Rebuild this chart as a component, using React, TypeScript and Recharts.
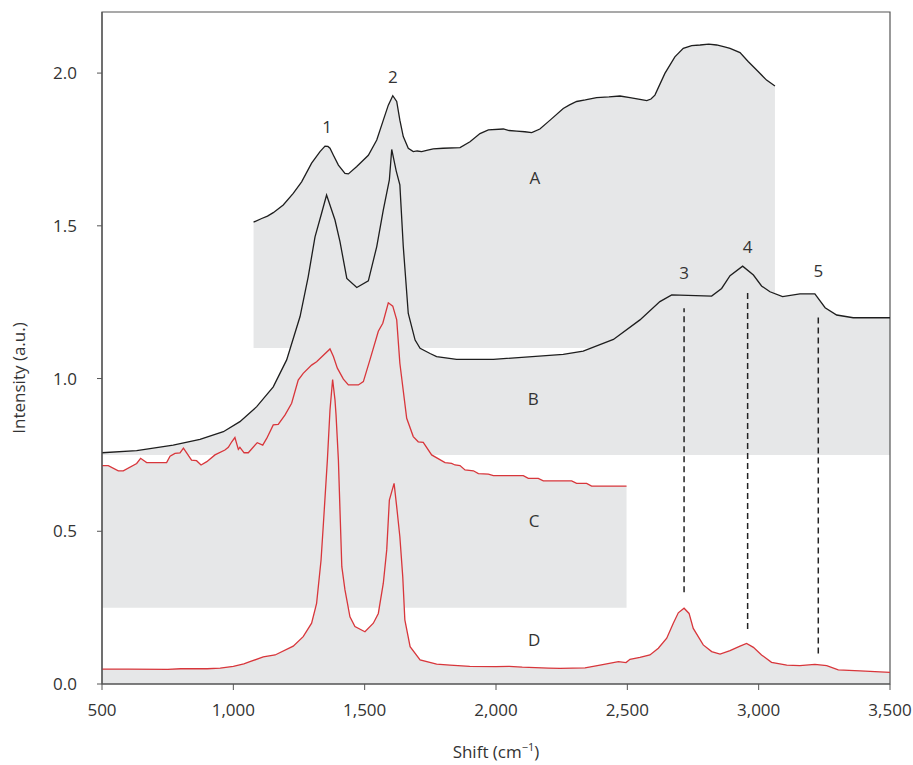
import React from 'react';
import {
  ComposedChart,
  Area,
  Line,
  XAxis,
  YAxis,
  ReferenceLine,
  ReferenceDot,
  ReferenceArea,
  Label,
} from 'recharts';

// Spectrum A (black, offset baseline 1.1)
const shiftA = [1077, 1108, 1130, 1152, 1190, 1228, 1260, 1298, 1330, 1349, 1360, 1368, 1381, 1400, 1425, 1438, 1470, 1514, 1546, 1571, 1590, 1607, 1622, 1634, 1647, 1666, 1685, 1700, 1717, 1740, 1761, 1799, 1863, 1901, 1939, 1971, 2028, 2050, 2079, 2110, 2136, 2167, 2206, 2256, 2280, 2307, 2340, 2383, 2430, 2472, 2510, 2548, 2574, 2590, 2605, 2643, 2681, 2713, 2745, 2777, 2810, 2840, 2870, 2891, 2929, 2960, 2998, 3030, 3062];
const intensityA = [1.512, 1.524, 1.532, 1.543, 1.568, 1.606, 1.644, 1.705, 1.743, 1.761, 1.76, 1.754, 1.731, 1.699, 1.672, 1.67, 1.694, 1.731, 1.781, 1.846, 1.895, 1.926, 1.907, 1.846, 1.792, 1.754, 1.743, 1.745, 1.743, 1.748, 1.752, 1.754, 1.756, 1.775, 1.802, 1.814, 1.817, 1.812, 1.81, 1.808, 1.805, 1.817, 1.846, 1.884, 1.896, 1.907, 1.912, 1.92, 1.922, 1.925, 1.92, 1.914, 1.91, 1.915, 1.928, 1.999, 2.053, 2.081, 2.09, 2.092, 2.095, 2.092, 2.086, 2.081, 2.067, 2.038, 2.005, 1.977, 1.958];
const baseA = 1.1;

// Spectrum B (black, offset baseline 0.75)
const shiftB = [500, 632, 771, 873, 962, 1025, 1089, 1152, 1203, 1254, 1285, 1311, 1336, 1355, 1387, 1406, 1432, 1470, 1514, 1546, 1571, 1594, 1603, 1620, 1634, 1647, 1666, 1692, 1711, 1749, 1774, 1850, 1990, 2256, 2332, 2447, 2548, 2624, 2669, 2821, 2859, 2891, 2939, 2980, 3011, 3043, 3091, 3157, 3214, 3253, 3297, 3360, 3500];
const intensityB = [0.757, 0.764, 0.782, 0.801, 0.826, 0.859, 0.908, 0.973, 1.061, 1.203, 1.333, 1.464, 1.541, 1.601, 1.519, 1.448, 1.328, 1.298, 1.32, 1.432, 1.552, 1.65, 1.75, 1.68, 1.634, 1.432, 1.213, 1.126, 1.099, 1.082, 1.072, 1.063, 1.063, 1.079, 1.09, 1.128, 1.192, 1.252, 1.274, 1.27, 1.295, 1.337, 1.368, 1.339, 1.303, 1.284, 1.268, 1.277, 1.277, 1.232, 1.208, 1.199, 1.199];
const baseB = 0.75;

// Spectrum C (red, offset baseline 0.25)
const shiftC = [500, 524, 562, 581, 632, 647, 670, 746, 759, 778, 797, 810, 841, 860, 877, 899, 930, 968, 981, 994, 1006, 1019, 1025, 1041, 1057, 1091, 1112, 1127, 1152, 1171, 1197, 1222, 1247, 1266, 1298, 1317, 1368, 1381, 1396, 1419, 1438, 1476, 1495, 1520, 1552, 1569, 1590, 1607, 1622, 1634, 1660, 1685, 1704, 1723, 1755, 1806, 1831, 1844, 1863, 1882, 1914, 1933, 1971, 1990, 2104, 2123, 2161, 2180, 2288, 2307, 2345, 2364, 2497];
const intensityC = [0.715, 0.715, 0.698, 0.698, 0.722, 0.739, 0.725, 0.725, 0.746, 0.755, 0.757, 0.772, 0.733, 0.731, 0.717, 0.728, 0.75, 0.766, 0.775, 0.793, 0.807, 0.768, 0.775, 0.757, 0.757, 0.79, 0.782, 0.804, 0.848, 0.85, 0.881, 0.919, 0.995, 1.017, 1.044, 1.055, 1.097, 1.072, 1.034, 0.998, 0.979, 0.979, 0.99, 1.061, 1.155, 1.181, 1.248, 1.237, 1.192, 1.05, 0.87, 0.81, 0.793, 0.791, 0.75, 0.725, 0.722, 0.717, 0.715, 0.701, 0.698, 0.689, 0.687, 0.682, 0.682, 0.673, 0.673, 0.665, 0.665, 0.657, 0.657, 0.648, 0.648];
const baseC = 0.25;

// Spectrum D (red, baseline 0)
const shiftD = [500, 600, 750, 800, 900, 950, 1000, 1040, 1063, 1114, 1159, 1228, 1266, 1298, 1317, 1334, 1343, 1358, 1368, 1378, 1387, 1391, 1400, 1406, 1413, 1425, 1444, 1463, 1501, 1533, 1552, 1571, 1584, 1594, 1612, 1622, 1634, 1645, 1653, 1673, 1711, 1774, 1825, 1900, 2000, 2050, 2100, 2200, 2244, 2339, 2396, 2466, 2495, 2510, 2548, 2586, 2618, 2650, 2675, 2694, 2716, 2735, 2751, 2789, 2821, 2853, 2891, 2929, 2954, 2980, 3011, 3049, 3107, 3157, 3214, 3259, 3303, 3386, 3500];
const intensityD = [0.049, 0.049, 0.048, 0.05, 0.05, 0.052, 0.058, 0.066, 0.073, 0.089, 0.095, 0.124, 0.155, 0.199, 0.264, 0.406, 0.526, 0.733, 0.897, 0.997, 0.93, 0.881, 0.733, 0.57, 0.384, 0.308, 0.22, 0.188, 0.171, 0.199, 0.231, 0.33, 0.439, 0.602, 0.657, 0.58, 0.482, 0.351, 0.21, 0.122, 0.079, 0.065, 0.062, 0.058, 0.057, 0.058, 0.055, 0.052, 0.051, 0.053, 0.062, 0.073, 0.07, 0.081, 0.087, 0.095, 0.117, 0.15, 0.199, 0.233, 0.248, 0.231, 0.182, 0.128, 0.106, 0.098, 0.109, 0.124, 0.133, 0.12, 0.095, 0.071, 0.062, 0.06, 0.064, 0.06, 0.046, 0.043, 0.038];
const baseD = 0;

// Peak markers (dashed guides)
const peakShifts = [2716, 2958, 3227];
const peakLow = [0.3, 0.18, 0.1];
const peakHigh = [1.23, 1.29, 1.2];

// Text annotations
const annoText = ['1', '2', 'A', 'B', 'C', 'D', '3', '4', '5'];
const annoX = [1357, 1607, 2148, 2142, 2145, 2145, 2716, 2958, 3227];
const annoY = [1.824, 1.988, 1.656, 0.933, 0.534, 0.144, 1.347, 1.432, 1.353];

const xTicks = [500, 1000, 1500, 2000, 2500, 3000, 3500];
const yTicks = [0, 0.5, 1.0, 1.5, 2.0];

const toRows = (xs: number[], ys: number[]) => xs.map((x, i) => ({ x, y: ys[i] }));

const rowsA = toRows(shiftA, intensityA);
const rowsB = toRows(shiftB, intensityB);
const rowsC = toRows(shiftC, intensityC);
const rowsD = toRows(shiftD, intensityD);

const FILL = '#e6e7e8';
const BLACK = '#1e1e1e';
const RED = '#d8363b';
const TEXT = '#333333';
const AXIS = '#555555';
const FONT = '"Open Sans", sans-serif';

const YTitle = (props: any) => {
  const vb = props.viewBox || { x: 42, y: 12, width: 60, height: 672 };
  const cx = 18;
  const cy = vb.y + vb.height / 2 + 30;
  return (
    <text
      x={cx}
      y={cy}
      transform={`rotate(-90 ${cx} ${cy})`}
      textAnchor="middle"
      dominantBaseline="central"
      fontSize={17}
      fill={TEXT}
      fontFamily={FONT}
    >
      Intensity (a.u.)
    </text>
  );
};

const XTitle = (props: any) => {
  const vb = props.viewBox || { x: 102, y: 684, width: 788, height: 30 };
  const cx = vb.x + vb.width / 2;
  return (
    <text x={cx} y={758} textAnchor="middle" fontSize={17} fill={TEXT} fontFamily={FONT}>
      Shift (cm
      <tspan fontSize={11} dy={-7}>−1</tspan>
      <tspan dy={7}>)</tspan>
    </text>
  );
};

export default function App() {
  return (
    <div style={{ position: 'absolute', left: 0, top: 0, fontFamily: FONT }}>
      <ComposedChart width={913} height={765} margin={{ top: 12, right: 23, left: 42, bottom: 51 }}>
        <XAxis
          type="number"
          dataKey="x"
          domain={[500, 3500]}
          ticks={xTicks}
          interval={0}
          allowDataOverflow
          tickFormatter={(v: number) => v.toLocaleString('en-US')}
          tick={{ fontSize: 17, fill: TEXT, fontFamily: FONT }}
          tickLine={{ stroke: AXIS }}
          axisLine={{ stroke: AXIS, strokeWidth: 1.2 }}
          tickSize={6}
          tickMargin={14}
          height={30}
        >
          <Label content={XTitle} />
        </XAxis>
        <YAxis
          type="number"
          domain={[0, 2.2]}
          ticks={yTicks}
          allowDataOverflow
          tickFormatter={(v: number) => v.toFixed(1)}
          tick={{ fontSize: 17, fill: TEXT, fontFamily: FONT }}
          tickLine={{ stroke: AXIS }}
          axisLine={{ stroke: AXIS, strokeWidth: 1.2 }}
          tickSize={5}
          tickMargin={20}
          width={60}
        >
          <Label content={YTitle} />
        </YAxis>

        <Area data={rowsD} dataKey="y" type="linear" baseValue={baseD} fill={FILL} fillOpacity={1} stroke="none" isAnimationActive={false} />
        <Area data={rowsC} dataKey="y" type="linear" baseValue={baseC} fill={FILL} fillOpacity={1} stroke="none" isAnimationActive={false} />
        <Area data={rowsB} dataKey="y" type="linear" baseValue={baseB} fill={FILL} fillOpacity={1} stroke="none" isAnimationActive={false} />
        <Area data={rowsA} dataKey="y" type="linear" baseValue={baseA} fill={FILL} fillOpacity={1} stroke="none" isAnimationActive={false} />

        <Line data={rowsD} dataKey="y" type="linear" stroke={RED} strokeWidth={1.3} dot={false} isAnimationActive={false} />
        <Line data={rowsC} dataKey="y" type="linear" stroke={RED} strokeWidth={1.3} dot={false} isAnimationActive={false} />
        <Line data={rowsB} dataKey="y" type="linear" stroke={BLACK} strokeWidth={1.3} dot={false} isAnimationActive={false} />
        <Line data={rowsA} dataKey="y" type="linear" stroke={BLACK} strokeWidth={1.3} dot={false} isAnimationActive={false} />

        {peakShifts.map((x, i) => (
          <ReferenceLine
            key={`pk${i}`}
            segment={[{ x, y: peakLow[i] }, { x, y: peakHigh[i] }]}
            stroke="#222"
            strokeWidth={1.5}
            strokeDasharray="6 4"
          />
        ))}

        {annoText.map((t, i) => (
          <ReferenceDot
            key={`an${i}`}
            x={annoX[i]}
            y={annoY[i]}
            r={0}
            fill="none"
            stroke="none"
            label={{ value: t, position: 'center', fontSize: 17, fill: TEXT, fontFamily: FONT }}
          />
        ))}

        <ReferenceArea x1={500} x2={3500} y1={0} y2={2.2} fill="none" stroke={AXIS} strokeWidth={1.2} />
      </ComposedChart>
    </div>
  );
}
